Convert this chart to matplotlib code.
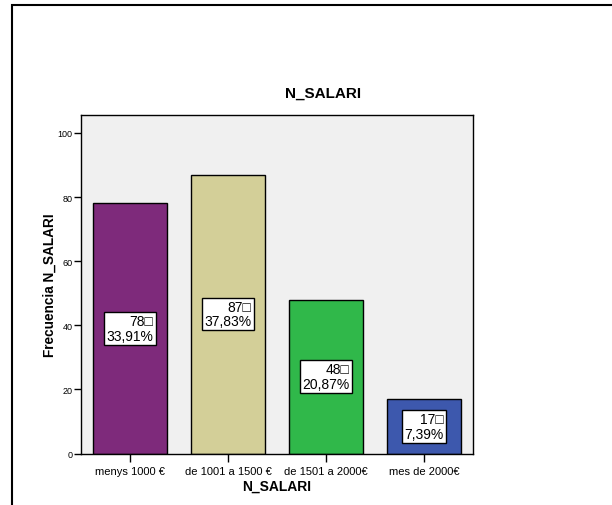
import matplotlib
matplotlib.use('Agg')
import matplotlib.pyplot as plt
from matplotlib.patches import Rectangle

categories = ['menys 1000 €', 'de 1001 a 1500 €', 'de 1501 a 2000€', 'mes de 2000€']
counts = [78, 87, 48, 17]
percents = ['33,91%', '37,83%', '20,87%', '7,39%']
colors = ['#7e2a7b', '#d3cf98', '#30b84a', '#3d58ad']

plt.rcParams['font.family'] = ['Liberation Sans', 'DejaVu Sans']

fig = plt.figure(figsize=(6.12, 5.06), dpi=100)
ax = fig.add_axes([81 / 612, 51.5 / 506, 392 / 612, 338.5 / 506])
ax.set_facecolor('#f0f0f0')

x = range(len(categories))
ax.bar(x, counts, width=0.755, color=colors, edgecolor='black', linewidth=1)

# value boxes in the middle of each bar
for i, (c, p) in enumerate(zip(counts, percents)):
    ax.text(i, c / 2, f'{c}\u25a1\n{p}', ha='center', va='center', fontsize=10,
            linespacing=1.05, multialignment='right',
            bbox=dict(boxstyle='square,pad=0.15', facecolor='white', edgecolor='black', linewidth=1))

ax.set_xlim(-0.5, 3.5)
ax.set_ylim(0, 105.6)
ax.set_yticks([0, 20, 40, 60, 80, 100])
ax.set_xticks(list(x))
ax.set_xticklabels(categories, fontsize=8)
ax.tick_params(axis='y', labelsize=6.5, length=5, width=1, pad=1)
ax.tick_params(axis='x', length=6, width=1, pad=3)
for s in ax.spines.values():
    s.set_linewidth(1)
ax.set_xlabel('N_SALARI', fontsize=10, fontweight='bold', labelpad=2)
ax.set_ylabel('Frecuencia N_SALARI', fontsize=9.8, fontweight='bold', labelpad=1)

fig.text(323 / 612, 1 - 94 / 506, 'N_SALARI', ha='center', va='center',
         fontsize=11, fontweight='bold')

# outer chart frame, clipped by the image edge
fig.add_artist(Rectangle((11.5 / 612, -0.2), 1.2, 0.2 + 1 - 5.5 / 506,
                         transform=fig.transFigure, fill=False,
                         edgecolor='black', linewidth=1.5, clip_on=False))

fig.savefig('out.png', dpi=100)
